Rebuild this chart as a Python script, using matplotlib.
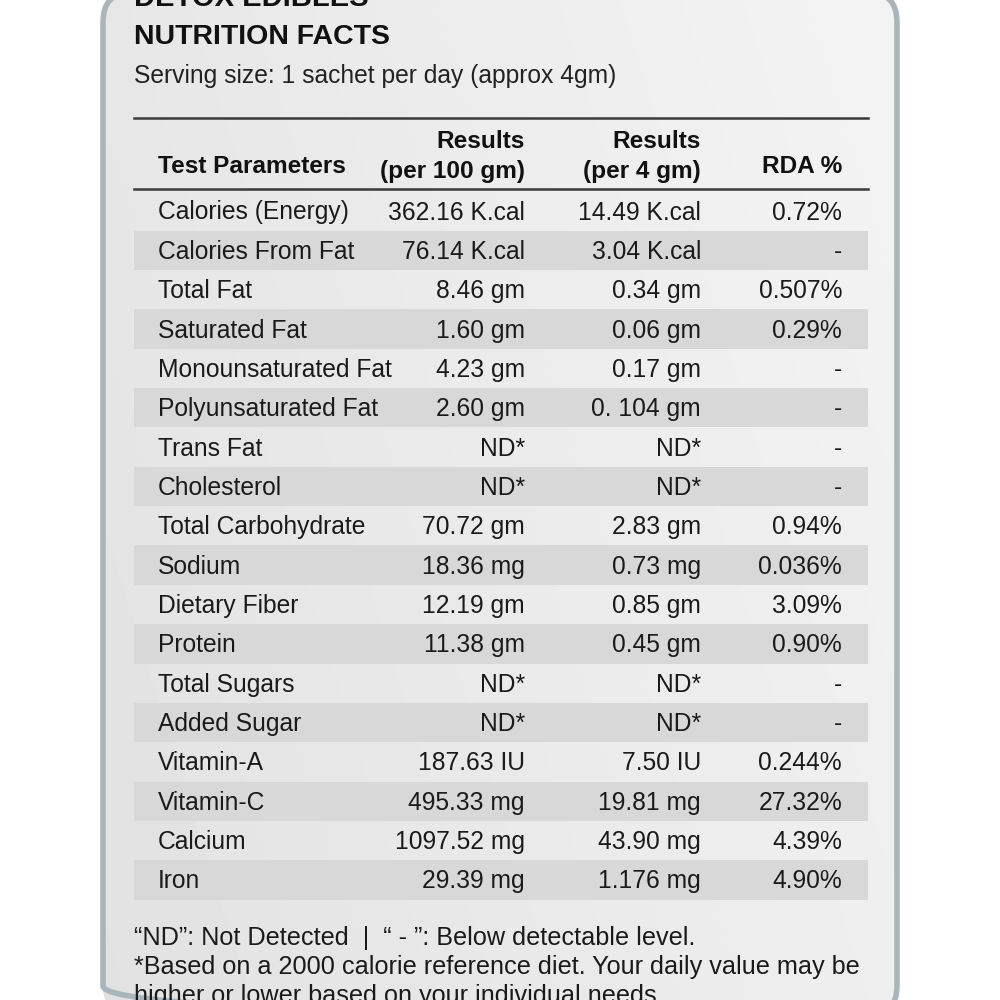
import numpy as np
import matplotlib
matplotlib.use("Agg")
import matplotlib.pyplot as plt
from matplotlib.patches import FancyBboxPatch, Rectangle

plt.rcParams['font.family'] = ['Liberation Sans', 'DejaVu Sans']

brand = "DETOX EDIBLES"
title = "NUTRITION FACTS"
serving = "Serving size: 1 sachet per day (approx 4gm)"
headers = ["Test Parameters", "Results\n(per 100 gm)", "Results\n(per 4 gm)", "RDA %"]
params = ["Calories (Energy)", "Calories From Fat", "Total Fat", "Saturated Fat",
          "Monounsaturated Fat", "Polyunsaturated Fat", "Trans Fat", "Cholesterol",
          "Total Carbohydrate", "Sodium", "Dietary Fiber", "Protein", "Total Sugars",
          "Added Sugar", "Vitamin-A", "Vitamin-C", "Calcium", "Iron"]
per100 = ["362.16 K.cal", "76.14 K.cal", "8.46 gm", "1.60 gm", "4.23 gm", "2.60 gm",
          "ND*", "ND*", "70.72 gm", "18.36 mg", "12.19 gm", "11.38 gm", "ND*", "ND*",
          "187.63 IU", "495.33 mg", "1097.52 mg", "29.39 mg"]
per4 = ["14.49 K.cal", "3.04 K.cal", "0.34 gm", "0.06 gm", "0.17 gm", "0. 104 gm",
        "ND*", "ND*", "2.83 gm", "0.73 mg", "0.85 gm", "0.45 gm", "ND*", "ND*",
        "7.50 IU", "19.81 mg", "43.90 mg", "1.176 mg"]
rda = ["0.72%", "-", "0.507%", "0.29%", "-", "-", "-", "-", "0.94%", "0.036%",
       "3.09%", "0.90%", "-", "-", "0.244%", "27.32%", "4.39%", "4.90%"]
footer = ["\u201cND\u201d: Not Detected  |  \u201c - \u201d: Below detectable level.",
          "*Based on a 2000 calorie reference diet. Your daily value may be",
          "higher or lower based on your individual needs."]

fig = plt.figure(figsize=(10, 10), dpi=100)
ax = fig.add_axes([0, 0, 1, 1])
fig.patch.set_facecolor('white')

# panel
px0, py0, pw, ph = 103, -8, 794, 1024
panel = FancyBboxPatch((px0, py0), pw, ph, boxstyle="round,pad=0,rounding_size=30",
                       facecolor='#ececec', edgecolor='none', zorder=1)
ax.add_patch(panel)
gx = np.linspace(0, 1, 200)
gy = np.linspace(0, 1, 200)
GX, GY = np.meshgrid(gx, gy)
grad = 0.905 + 0.05 * GX - 0.02 * GY
im = ax.imshow(grad, extent=(px0, px0 + pw, py0 + ph, py0), cmap='gray', vmin=0, vmax=1,
               aspect='auto', zorder=1.5, interpolation='bilinear')
im.set_clip_path(panel)
ax.add_patch(FancyBboxPatch((px0, py0), pw, ph, boxstyle="round,pad=0,rounding_size=30",
                            facecolor='none', edgecolor='#a9b5bb', linewidth=4, zorder=1.8))

ax.set_xlim(0, 1000)
ax.set_ylim(1000, 0)
ax.axis('off')

x_left, x_right = 134, 868
col_x = [158, 525, 701, 842]
y0, dy = 211, 39.35
fs = 17.7

# title block
ax.text(x_left, 6, brand, fontsize=21, fontweight='bold', color='#111111', va='baseline', zorder=3)
ax.text(x_left, 44, title, fontsize=20.5, fontweight='bold', color='#111111', va='baseline', zorder=3)
ax.text(x_left, 83, serving, fontsize=17.7, color='#222222', va='baseline', zorder=3)

# header lines
ax.plot([x_left, x_right], [118, 118], color='#3a3a3a', lw=1.8, zorder=3)
ax.plot([x_left, x_right], [189, 189], color='#3a3a3a', lw=1.8, zorder=3)

hdr_kw = dict(fontsize=17.6, fontweight='bold', color='#111111', zorder=3, va='baseline')
ax.text(col_x[0], 173, headers[0], ha='left', **hdr_kw)
for ci in (1, 2):
    l1, l2 = headers[ci].split("\n")
    ax.text(col_x[ci], 148, l1, ha='right', **hdr_kw)
    ax.text(col_x[ci], 178, l2, ha='right', **hdr_kw)
ax.text(col_x[3], 173, headers[3], ha='right', **hdr_kw)

# rows
for i, name in enumerate(params):
    yc = y0 + i * dy
    if i % 2 == 1:
        ax.add_patch(Rectangle((x_left, yc - dy / 2), x_right - x_left, dy,
                               facecolor='#d8d8d8', edgecolor='none', zorder=2))
    yb = yc + 8.5
    kw = dict(fontsize=fs, color='#1a1a1a', va='baseline', zorder=3)
    ax.text(col_x[0], yb, name, ha='left', **kw)
    ax.text(col_x[1], yb, per100[i], ha='right', **kw)
    ax.text(col_x[2], yb, per4[i], ha='right', **kw)
    ax.text(col_x[3], yb, rda[i], ha='right', **kw)

# footer
for j, line in enumerate(footer):
    ax.text(x_left, 945 + j * 29, line, fontsize=18.2, color='#1a1a1a', va='baseline', zorder=3)

fig.savefig('out.png', dpi=100, facecolor='white')
